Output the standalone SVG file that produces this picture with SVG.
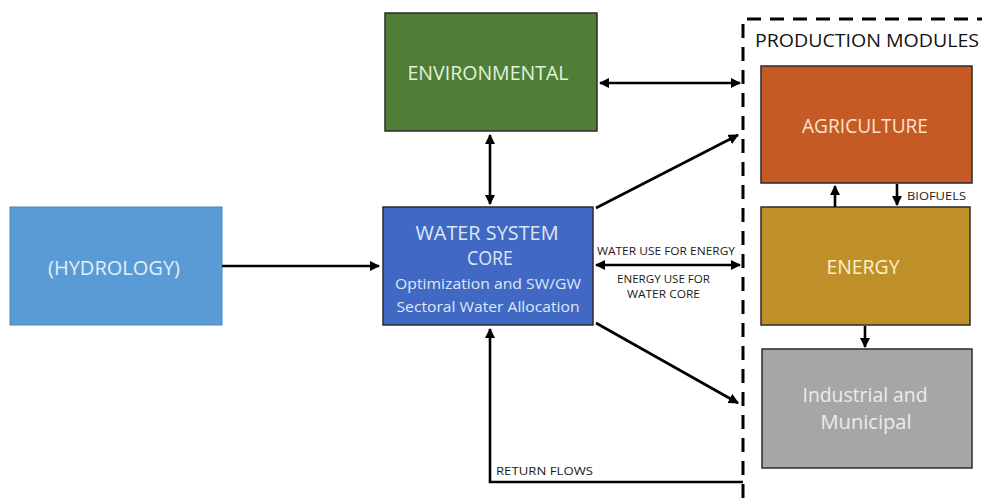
<svg xmlns="http://www.w3.org/2000/svg" width="982" height="499" viewBox="0 0 982 499">
  <defs>
    <marker id="ah" viewBox="0 0 10 10" refX="9" refY="5" markerWidth="4" markerHeight="4" orient="auto-start-reverse" markerUnits="strokeWidth">
      <path d="M0,0 L10,5 L0,10 z" fill="#000"/>
    </marker>
    <style>
      .box { stroke: #2b2b2b; stroke-width: 1.5; }
      .lbl { font-family: "Open Sans", "Liberation Sans", sans-serif; text-anchor: middle; }
      .big { font-size: 20px; }
      .mid { font-size: 15px; }
      .small { font-family: "Open Sans", "Liberation Sans", sans-serif; font-size: 10.5px; fill: #1a1a1a; }
      .link { stroke: #000; stroke-width: 2.6; fill: none; }
    </style>
  </defs>
  <rect width="982" height="499" fill="#fff"/>

  <!-- production modules frame -->
  <g id="production-modules">
    <path d="M743,498 L743,19 L990,19" fill="none" stroke="#000" stroke-width="3" stroke-dasharray="14,9"/>
    <text x="755" y="47" font-family="Open Sans, Liberation Sans, sans-serif" font-size="18" fill="#111" textLength="224" lengthAdjust="spacingAndGlyphs">PRODUCTION MODULES</text>
  </g>

  <g id="hydrology">
    <rect x="10" y="207" width="212" height="118" fill="#5b9bd5" stroke="#4a86bf" stroke-width="1"/>
    <text class="lbl big" x="114" y="275" fill="#e3eefa" textLength="132" lengthAdjust="spacingAndGlyphs">(HYDROLOGY)</text>
  </g>

  <g id="environmental">
    <rect class="box" x="385" y="13" width="212" height="118" fill="#4f7e37"/>
    <text class="lbl big" x="488" y="80" fill="#e4f0d9" textLength="161" lengthAdjust="spacingAndGlyphs">ENVIRONMENTAL</text>
  </g>

  <g id="water-system-core">
    <rect class="box" x="383" y="207" width="210" height="118" fill="#4169c3"/>
    <text class="lbl big" x="487" y="240" fill="#dce8f7" textLength="143" lengthAdjust="spacingAndGlyphs">WATER SYSTEM</text>
    <text class="lbl big" x="490" y="265" fill="#dce8f7" textLength="46" lengthAdjust="spacingAndGlyphs">CORE</text>
    <text class="lbl mid" x="488" y="289" fill="#dce8f7" textLength="186" lengthAdjust="spacingAndGlyphs">Optimization and SW/GW</text>
    <text class="lbl mid" x="488" y="312" fill="#dce8f7" textLength="183" lengthAdjust="spacingAndGlyphs">Sectoral Water Allocation</text>
  </g>

  <g id="agriculture">
    <rect class="box" x="761" y="66" width="211" height="117" fill="#c55a24"/>
    <text class="lbl big" x="865" y="133" fill="#fbe3d0" textLength="126" lengthAdjust="spacingAndGlyphs">AGRICULTURE</text>
  </g>

  <g id="energy">
    <rect class="box" x="761" y="207" width="209" height="118" fill="#bf902a"/>
    <text class="lbl big" x="863" y="274" fill="#fdf1c8" textLength="73" lengthAdjust="spacingAndGlyphs">ENERGY</text>
  </g>

  <g id="industrial-municipal">
    <rect class="box" x="762" y="349" width="210" height="119" fill="#a6a6a6"/>
    <text class="lbl big" x="865" y="402" fill="#ececec" textLength="125" lengthAdjust="spacingAndGlyphs">Industrial and</text>
    <text class="lbl big" x="866" y="429" fill="#ececec" textLength="91" lengthAdjust="spacingAndGlyphs">Municipal</text>
  </g>

  <g id="connectors">
    <!-- hydrology to core -->
    <line class="link" x1="222" y1="266" x2="379" y2="266" marker-end="url(#ah)"/>
    <!-- environmental <-> core -->
    <line class="link" x1="490" y1="135" x2="490" y2="204" marker-start="url(#ah)" marker-end="url(#ah)"/>
    <!-- environmental <-> production modules -->
    <line class="link" x1="600" y1="83" x2="740" y2="83" marker-start="url(#ah)" marker-end="url(#ah)"/>
    <!-- core to agriculture -->
    <line class="link" x1="596" y1="208" x2="738" y2="135" marker-end="url(#ah)"/>
    <!-- core <-> energy -->
    <line class="link" x1="596" y1="265" x2="740" y2="265" marker-start="url(#ah)" marker-end="url(#ah)"/>
    <!-- core to industrial -->
    <line class="link" x1="596" y1="323" x2="738" y2="403" marker-end="url(#ah)"/>
    <!-- return flows -->
    <path class="link" d="M743,482 L490,482 L490,329" marker-end="url(#ah)"/>
    <!-- energy to agriculture -->
    <line class="link" x1="835" y1="207" x2="835" y2="186" marker-end="url(#ah)"/>
    <!-- biofuels: agriculture to energy -->
    <line class="link" x1="897" y1="184" x2="897" y2="205" marker-end="url(#ah)"/>
    <!-- energy to industrial -->
    <line class="link" x1="865" y1="326" x2="865" y2="347" marker-end="url(#ah)"/>

    <text class="small" x="597" y="255" textLength="138" lengthAdjust="spacingAndGlyphs">WATER USE FOR ENERGY</text>
    <text class="small" x="617" y="283" textLength="93" lengthAdjust="spacingAndGlyphs">ENERGY USE FOR</text>
    <text class="small" x="627" y="298" textLength="73" lengthAdjust="spacingAndGlyphs">WATER CORE</text>
    <text class="small" x="907" y="200" textLength="59" lengthAdjust="spacingAndGlyphs">BIOFUELS</text>
    <text class="small" x="496" y="475" textLength="97" lengthAdjust="spacingAndGlyphs">RETURN FLOWS</text>
  </g>
</svg>
